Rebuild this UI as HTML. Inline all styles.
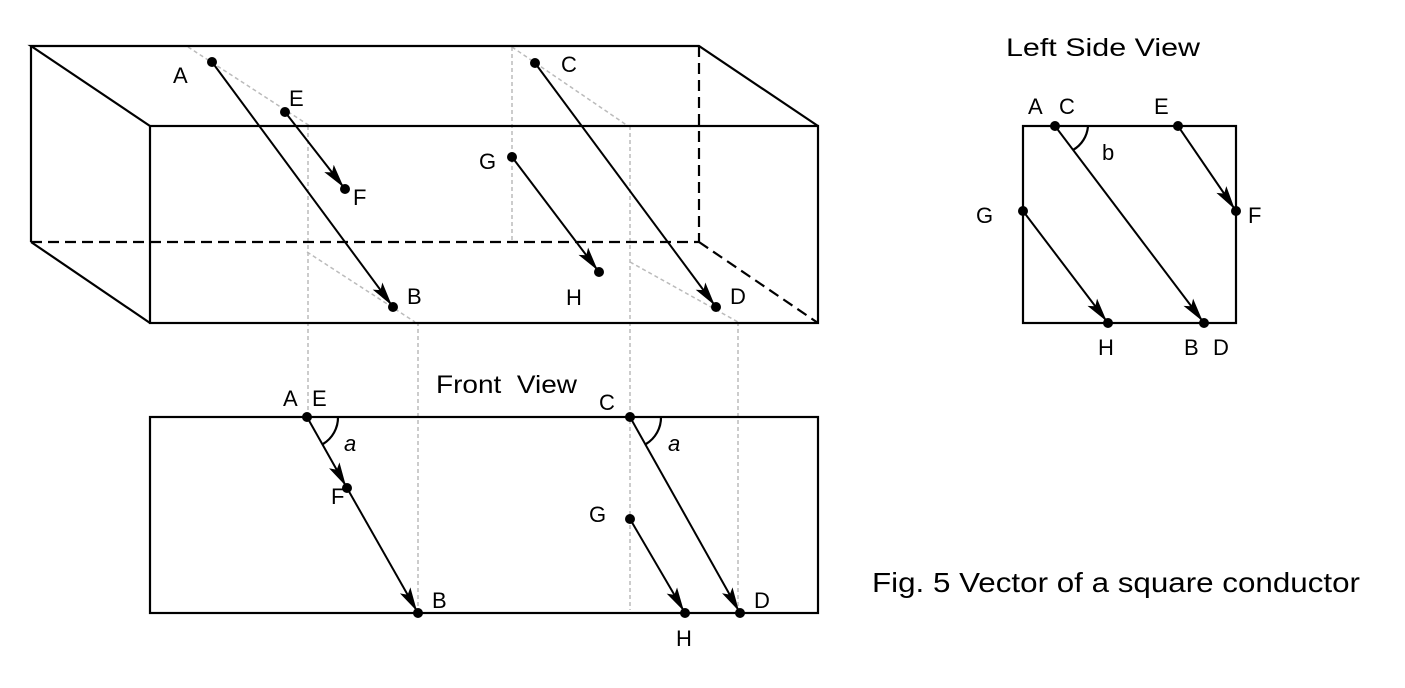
<!DOCTYPE html>
<html><head><meta charset="utf-8"><style>
html,body{margin:0;padding:0;background:#fff;}
svg{display:block;}
text{font-family:"Liberation Sans",sans-serif;font-size:22px;fill:#000;}
</style></head><body>
<svg width="1405" height="688" viewBox="0 0 1405 688" xmlns="http://www.w3.org/2000/svg">
<defs>
<marker id="ar" markerUnits="userSpaceOnUse" markerWidth="26" markerHeight="14" refX="26" refY="6" orient="auto" viewBox="0 0 26 12">
<path d="M0,0 L24,6 L0,12 L5,6 z" fill="#000"/>
</marker>
</defs>
<g stroke="#bbb" stroke-width="1.5" stroke-dasharray="4,3" fill="none">
<line x1="188" y1="47" x2="310" y2="126"/>
<line x1="308" y1="126" x2="308" y2="417"/>
<line x1="307" y1="252" x2="415" y2="322"/>
<line x1="418" y1="322" x2="418" y2="613"/>
<line x1="512" y1="47" x2="628" y2="126"/>
<line x1="512" y1="47" x2="512" y2="242"/>
<line x1="630" y1="126" x2="630" y2="610"/>
<line x1="630" y1="262" x2="738" y2="322"/>
<line x1="738" y1="322" x2="738" y2="613"/>
</g>
<g stroke="#000" stroke-width="2.2" fill="none">
<polyline points="150,126 31,46 699,46 818,126"/>
<rect x="150" y="126" width="668" height="197"/>
<line x1="31" y1="46" x2="31" y2="242"/>
<line x1="31" y1="242" x2="150" y2="323"/>
<g stroke-dasharray="11,6">
<line x1="31" y1="242" x2="699" y2="242"/>
<line x1="699" y1="46" x2="699" y2="242"/>
<line x1="699" y1="242" x2="818" y2="323"/>
</g>
</g>
<g stroke="#000" stroke-width="2" marker-end="url(#ar)">
<line x1="212" y1="62" x2="393" y2="307"/>
<line x1="285" y1="112" x2="345" y2="189"/>
<line x1="535" y1="63" x2="716" y2="307"/>
<line x1="512" y1="157" x2="599" y2="272"/>
<line x1="307" y1="417" x2="347" y2="488"/>
<line x1="347" y1="488" x2="418" y2="613"/>
<line x1="630" y1="417" x2="740" y2="613"/>
<line x1="630" y1="519" x2="685" y2="613"/>
<line x1="1055" y1="126" x2="1204" y2="323"/>
<line x1="1178" y1="126" x2="1236" y2="211"/>
<line x1="1023" y1="211" x2="1108" y2="323"/>
</g>
<g fill="#000">
<circle cx="212" cy="62" r="5"/><circle cx="393" cy="307" r="5"/>
<circle cx="285" cy="112" r="5"/><circle cx="345" cy="189" r="5"/>
<circle cx="535" cy="63" r="5"/><circle cx="716" cy="307" r="5"/>
<circle cx="512" cy="157" r="5"/><circle cx="599" cy="272" r="5"/>
<circle cx="307" cy="417" r="5"/><circle cx="347" cy="488" r="5"/><circle cx="418" cy="613" r="5"/>
<circle cx="630" cy="417" r="5"/><circle cx="630" cy="519" r="5"/><circle cx="685" cy="613" r="5"/><circle cx="740" cy="613" r="5"/>
<circle cx="1055" cy="126" r="5"/><circle cx="1178" cy="126" r="5"/><circle cx="1236" cy="211" r="5"/>
<circle cx="1023" cy="211" r="5"/><circle cx="1108" cy="323" r="5"/><circle cx="1204" cy="323" r="5"/>
</g>
<g stroke="#000" stroke-width="2.2" fill="none">
<rect x="150" y="417" width="668" height="196"/>
<rect x="1023" y="126" width="213" height="197"/>
<path d="M338,417 A31,31 0 0 1 323,444"/>
<path d="M661,417 A31,31 0 0 1 646,444"/>
<path d="M1088,126 A30,30 0 0 1 1073,150"/>
</g>
<text x="173" y="83">A</text>
<text x="289" y="106">E</text>
<text x="353" y="205">F</text>
<text x="407" y="304">B</text>
<text x="561" y="72">C</text>
<text x="479" y="169">G</text>
<text x="566" y="305">H</text>
<text x="730" y="304">D</text>
<text x="436" y="393" style="font-size:25px" textLength="141" lengthAdjust="spacingAndGlyphs">Front&#160;&#160;View</text>
<text x="283" y="406">A</text>
<text x="312" y="406">E</text>
<text x="344" y="451" font-style="italic">a</text>
<text x="331" y="504">F</text>
<text x="432" y="608">B</text>
<text x="599" y="410">C</text>
<text x="668" y="451" font-style="italic">a</text>
<text x="589" y="522">G</text>
<text x="676" y="646">H</text>
<text x="754" y="608">D</text>
<text x="1006" y="56" style="font-size:25px" textLength="194" lengthAdjust="spacingAndGlyphs">Left&#160;Side&#160;View</text>
<text x="1028" y="114">A</text>
<text x="1059" y="114">C</text>
<text x="1154" y="114">E</text>
<text x="1102" y="160">b</text>
<text x="976" y="223">G</text>
<text x="1248" y="223">F</text>
<text x="1098" y="355">H</text>
<text x="1184" y="355">B</text>
<text x="1213" y="355">D</text>
<text x="872" y="592" style="font-size:28px" textLength="488" lengthAdjust="spacingAndGlyphs">Fig.&#160;5&#160;Vector&#160;of&#160;a&#160;square&#160;conductor</text>
</svg>
</body></html>
